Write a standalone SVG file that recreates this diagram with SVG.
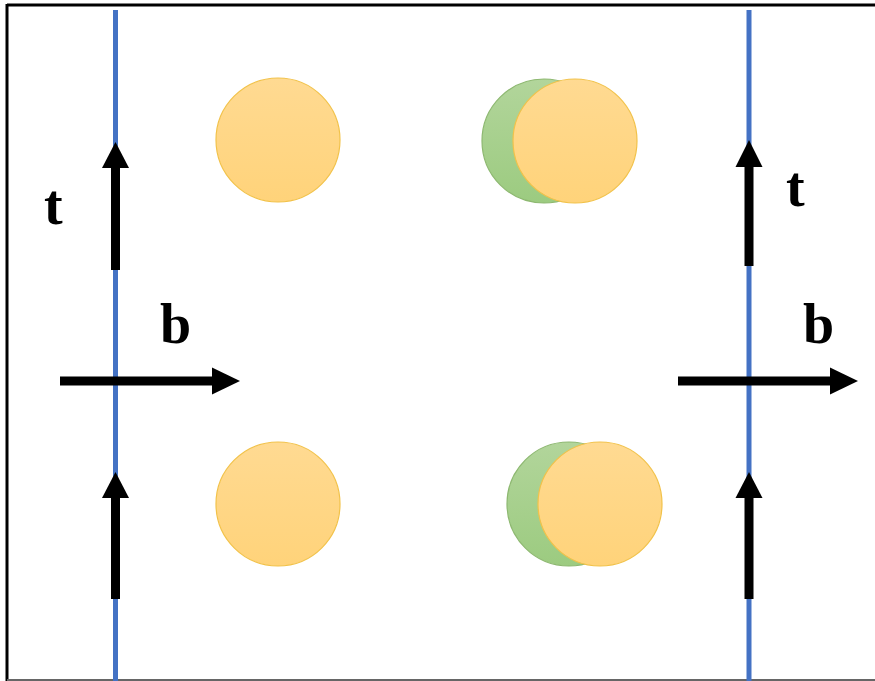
<svg xmlns="http://www.w3.org/2000/svg" width="875" height="681" viewBox="0 0 875 681">
<defs>
<linearGradient id="gy" x1="0" y1="0" x2="0" y2="1"><stop offset="0" stop-color="#FFDA92"/><stop offset="1" stop-color="#FFD37A"/></linearGradient>
<linearGradient id="gg" x1="0" y1="0" x2="0" y2="1"><stop offset="0" stop-color="#B2D59B"/><stop offset="1" stop-color="#9CCB80"/></linearGradient>
<style>
.ax{stroke:#4472C4;stroke-width:5;fill:none}
.sh{stroke:#000;stroke-width:9;fill:none}
.hd{fill:#000}
.y{fill:url(#gy);stroke:#F2C24A;stroke-width:1.2}
.g{fill:url(#gg);stroke:#8DB870;stroke-width:1.2}
.lb{font-family:"Liberation Serif",serif;font-weight:bold;font-size:56px;fill:#000}
</style>
</defs>
<rect width="875" height="681" fill="#fff"/>
<g id="frame">
<line x1="7" y1="5" x2="875" y2="5" stroke="#000" stroke-width="3"/>
<line x1="7" y1="4" x2="7" y2="681" stroke="#000" stroke-width="3"/>
<line x1="7" y1="680" x2="875" y2="680" stroke="#666" stroke-width="2"/>
</g>
<g id="axis-left"><line class="ax" x1="115.5" y1="10" x2="115.5" y2="681"/></g>
<g id="axis-right"><line class="ax" x1="749" y1="10" x2="749" y2="681"/></g>
<g id="particle-tl"><circle class="y" cx="278" cy="140" r="62"/></g>
<g id="particle-bl"><circle class="y" cx="278" cy="504" r="62"/></g>
<g id="particle-tr"><circle class="g" cx="544" cy="141" r="62"/><circle class="y" cx="575" cy="141" r="62"/></g>
<g id="particle-br"><circle class="g" cx="569" cy="504" r="62"/><circle class="y" cx="600" cy="504" r="62"/></g>
<g id="connectors">
<line class="sh" x1="115.5" y1="270" x2="115.5" y2="164"/><polygon class="hd" points="115.5,142 102,168 129,168"/>
<line class="sh" x1="115.5" y1="599" x2="115.5" y2="494"/><polygon class="hd" points="115.5,472 102,498 129,498"/>
<line class="sh" x1="749" y1="266" x2="749" y2="162"/><polygon class="hd" points="749,140 735.5,167 762.5,167"/>
<line class="sh" x1="749" y1="599" x2="749" y2="494"/><polygon class="hd" points="749,472 735.5,498 762.5,498"/>
<line class="sh" x1="60" y1="381" x2="216" y2="381"/><polygon class="hd" points="240,381 212,367.5 212,394.5"/>
<line class="sh" x1="678" y1="381" x2="834" y2="381"/><polygon class="hd" points="858,381 830,367.5 830,394.5"/>
</g>
<g id="labels">
<text class="lb" x="44" y="224">t</text>
<text class="lb" x="786" y="206">t</text>
<text class="lb" x="160" y="343">b</text>
<text class="lb" x="803" y="343">b</text>
</g>
</svg>
